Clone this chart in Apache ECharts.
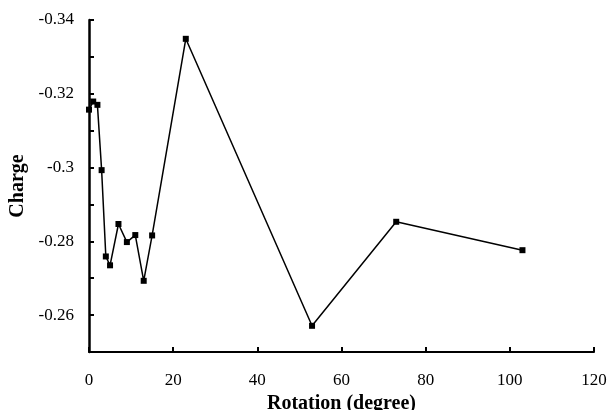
<!DOCTYPE html>
<html>
<head>
<meta charset="utf-8">
<script src="https://cdn.jsdelivr.net/npm/echarts@6/dist/echarts.min.js"></script>
<style>html,body{margin:0;padding:0;background:#fff;}#c{width:610px;height:410px;}</style>
</head>
<body>
<div id="c"></div>
<script>
const rotation = [0, 1, 2, 3, 4, 5, 7, 9, 11, 13, 15, 23, 53, 73, 103];
const charge = [-0.3157, -0.3179, -0.3170, -0.2993, -0.2759, -0.2735, -0.2847, -0.2798, -0.2817, -0.2693, -0.2816, -0.3349, -0.2571, -0.2853, -0.2776];
const xTicks = [0, 20, 40, 60, 80, 100, 120];
const yTicks = [-0.34, -0.32, -0.3, -0.28, -0.26];

const chart = echarts.init(document.getElementById('c'));
const font = '"Liberation Serif", "Times New Roman", serif';
chart.setOption({
  animation: false,
  backgroundColor: '#fff',
  grid: { left: 89, right: 16, top: 20, bottom: 58, containLabel: false, outerBoundsMode: 'none' },
  xAxis: {
    type: 'value', min: xTicks[0], max: xTicks[xTicks.length - 1], interval: 20,
    name: 'Rotation (degree)', nameLocation: 'middle', nameGap: 33,
    nameTextStyle: { fontFamily: font, fontSize: 20, fontWeight: 'bold', color: '#000' },
    axisLine: { onZero: false, lineStyle: { color: '#000', width: 2 } },
    axisTick: { inside: true, length: 5, lineStyle: { color: '#000', width: 2 } },
    axisLabel: { fontFamily: font, fontSize: 17, color: '#000', margin: 20 },
    splitLine: { show: false }
  },
  yAxis: {
    type: 'value', min: yTicks[0], max: -0.25, interval: 0.02, inverse: true,
    name: 'Charge', nameLocation: 'middle', nameGap: 60, nameRotate: 90,
    nameTextStyle: { fontFamily: font, fontSize: 20, fontWeight: 'bold', color: '#000' },
    axisLine: { lineStyle: { color: '#000', width: 2.5 } },
    axisTick: { inside: true, length: 5, lineStyle: { color: '#000', width: 2 } },
    minorTick: { show: true, splitNumber: 2, length: 5, lineStyle: { color: '#000', width: 2 } },
    axisLabel: {
      fontFamily: font, fontSize: 17, color: '#000', margin: 15,
      formatter: v => {
        const r = +v.toFixed(2);
        return yTicks.some(t => Math.abs(t - r) < 1e-9) ? String(r) : '';
      }
    },
    splitLine: { show: false }
  },
  series: [{
    type: 'line',
    data: rotation.map((x, i) => [x, charge[i]]),
    symbol: 'rect', symbolSize: 6, clip: false,
    lineStyle: { color: '#000', width: 1.5 },
    itemStyle: { color: '#000' }
  }]
});
</script>
</body>
</html>
